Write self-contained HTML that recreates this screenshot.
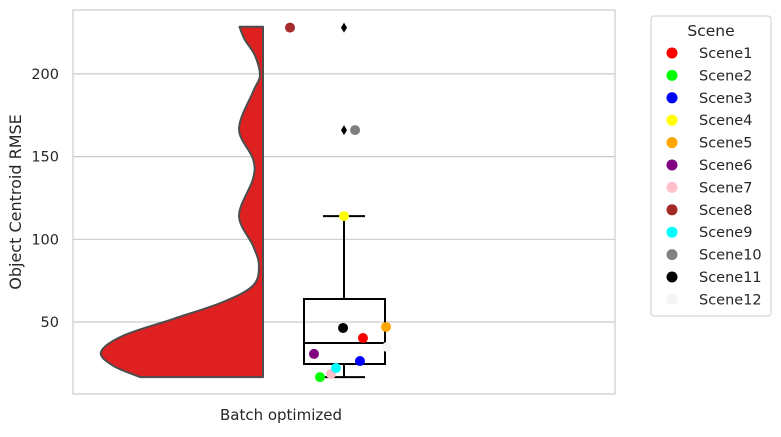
<!DOCTYPE html>
<html><head><meta charset="utf-8"><style>
body{margin:0;background:#fff;font-family:"DejaVu Sans",sans-serif;}
</style></head><body>
<svg width="781" height="433" xmlns="http://www.w3.org/2000/svg" font-family="DejaVu Sans, sans-serif">
<g id="grid"></g>
<g id="violin"></g>
<g id="box"></g>
<g id="pts"></g>
<rect x="73" y="10" width="542" height="384" fill="none" stroke="#ccc" stroke-width="1.2"/>
<g id="yticks" font-size="14.5" fill="#262626" text-anchor="end"></g>
<text transform="translate(21,202) rotate(-90)" text-anchor="middle" font-size="16" fill="#262626">Object Centroid RMSE</text>
<text x="281" y="420" text-anchor="middle" font-size="15" fill="#262626">Batch optimized</text>
<g id="legend"></g>
</svg>
<script>
const yTicks=[50,100,150,200];
const scenes=["Scene1","Scene2","Scene3","Scene4","Scene5","Scene6","Scene7","Scene8","Scene9","Scene10","Scene11","Scene12"];
const colors=["red","lime","blue","yellow","orange","purple","pink","brown","cyan","gray","black","whitesmoke"];
const values=[40.3,16.7,26.4,114,47,30.7,18.6,228,22.2,166,46.4,34.9];
const jitter=[0.158,-0.2,0.133,0.0,0.35,-0.25,-0.108,-0.45,-0.067,0.092,-0.008,0.358];
const violinValues=[228.5,220.8,211,198.9,189.1,166.7,148.6,136.5,114.3,96.2,84.1,72,62.1,51.8,41.7,31.9,23.6,16.7];
const violinDensity=[0.145,0.113,0.049,0.019,0.062,0.148,0.062,0.062,0.148,0.062,0.025,0.062,0.247,0.556,0.864,1.0,0.926,0.759];
const boxStats={q1:24.6,median:37.3,q3:63.9,lo:16.7,hi:114};
const fliers=[228,166];
const NS="http://www.w3.org/2000/svg";
const y=v=>322-(v-50)*1.654;
const cx=344, jit=120, vRight=263, vMax=162;
function mk(tag,attrs,parent){const e=document.createElementNS(NS,tag);for(const k in attrs)e.setAttribute(k,attrs[k]);parent.appendChild(e);return e;}
const grid=document.getElementById('grid'),yt=document.getElementById('yticks');
yTicks.forEach(t=>{
 const l=mk('line',{x1:73,x2:615,y1:y(t),y2:y(t),stroke:'#ccc','stroke-width':1.2},grid);
 
 
 const tx=mk('text',{x:59,y:y(t)+5},yt);tx.textContent=t;
 
 
});
// violin (Catmull-Rom smoothing)
const pts=violinValues.map((v,i)=>[vRight-violinDensity[i]*vMax,y(v)]);
let d='M'+vRight+','+pts[0][1]+' L'+pts[0][0]+','+pts[0][1];
for(let i=0;i<pts.length-1;i++){
 const p0=pts[Math.max(0,i-1)],p1=pts[i],p2=pts[i+1],p3=pts[Math.min(pts.length-1,i+2)];
 const c1=[p1[0]+(p2[0]-p0[0])/6,p1[1]+(p2[1]-p0[1])/6];
 const c2=[p2[0]-(p3[0]-p1[0])/6,p2[1]-(p3[1]-p1[1])/6];
 d+=' C'+c1[0]+','+c1[1]+' '+c2[0]+','+c2[1]+' '+p2[0]+','+p2[1];
}
d+=' L'+vRight+','+pts[pts.length-1][1]+' Z';
const vp=mk('path',{d:d,fill:'#de2020',stroke:'#4d4d4d','stroke-width':2,'stroke-linejoin':'round'},document.getElementById('violin'));


// box
const bx=document.getElementById('box');
const bl=304,br=385;
const w1=mk('line',{x1:cx,x2:cx,y1:y(boxStats.q3),y2:y(boxStats.hi),stroke:'#000','stroke-width':2},bx);

const w2=mk('line',{x1:cx,x2:cx,y1:y(boxStats.q1),y2:y(boxStats.lo),stroke:'#000','stroke-width':2},bx);

[boxStats.hi,boxStats.lo].forEach((v,i)=>{const c=mk('line',{x1:323,x2:365,y1:y(v),y2:y(v),stroke:'#000','stroke-width':2},bx);
 });
const r=mk('rect',{x:bl,y:y(boxStats.q3),width:br-bl,height:y(boxStats.q1)-y(boxStats.q3),fill:'none',stroke:'#000','stroke-width':2},bx);

const md=mk('line',{x1:bl,x2:br,y1:y(boxStats.median),y2:y(boxStats.median),stroke:'#000','stroke-width':2},bx);

fliers.forEach(v=>{const p=mk('path',{d:`M${cx},${y(v)-5} L${cx+3},${y(v)} L${cx},${y(v)+5} L${cx-3},${y(v)} Z`,fill:'#000'},bx);
 });
// points
const pg=document.getElementById('pts');
values.forEach((v,i)=>{const c=mk('circle',{cx:cx+jitter[i]*jit,cy:y(v),r:5,fill:colors[i]},pg);
 });
// legend
const lg=document.getElementById('legend');
const lb=mk('rect',{x:651,y:16,width:120,height:300,rx:3,fill:'#fff',stroke:'#ccc'},lg);

const lt=mk('text',{x:711,y:36,'text-anchor':'middle','font-size':15.5,fill:'#262626'},lg);lt.textContent='Scene';

scenes.forEach((s,i)=>{const yy=53+i*22.4;
 const g=mk('g',{},lg);
 
 mk('circle',{cx:672,cy:yy,r:5.5,fill:colors[i]},g);
 const t=mk('text',{x:699,y:yy+5,'font-size':14.5,fill:'#262626'},g);t.textContent=s;});
</script>
</body></html>
